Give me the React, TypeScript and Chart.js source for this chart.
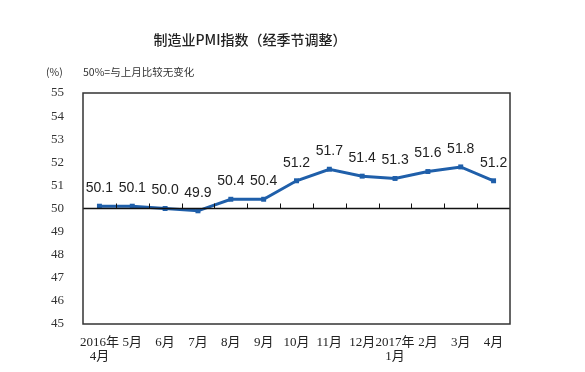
import React, { useEffect, useRef } from "react";
import { Chart, registerables } from "chart.js";

Chart.register(...registerables);

const categories: (string | string[])[] = [
  ["2016年", "4月"], "5月", "6月", "7月", "8月", "9月", "10月", "11月", "12月",
  ["2017年", "1月"], "2月", "3月", "4月",
];
const pmiValues = [50.1, 50.1, 50.0, 49.9, 50.4, 50.4, 51.2, 51.7, 51.4, 51.3, 51.6, 51.8, 51.2];
const yMin = 45;
const yMax = 55;
const baseline = 50;
const titleText = "制造业PMI指数（经季节调整）";
const unitText = "(%)";
const noteText = "50%=与上月比较无变化";

const LINE_COLOR = "#1f5faa";
const SERIF = "'Liberation Serif', 'DejaVu Serif', 'Noto Sans CJK SC', serif";

const decorPlugin = {
  id: "decor",
  afterDatasetsDraw(chart: any) {
    const { ctx, chartArea, scales } = chart;
    const x = scales.x;
    const y = scales.y;
    ctx.save();
    // 50 baseline
    const yb = y.getPixelForValue(baseline);
    ctx.strokeStyle = "#111";
    ctx.lineWidth = 1.5;
    ctx.beginPath();
    ctx.moveTo(chartArea.left, yb);
    ctx.lineTo(chartArea.right, yb);
    ctx.stroke();
    // tick marks between categories on baseline
    ctx.lineWidth = 1;
    const n = categories.length;
    for (let i = 1; i < n; i++) {
      const px = (x.getPixelForValue(i - 1) + x.getPixelForValue(i)) / 2;
      ctx.beginPath();
      ctx.moveTo(Math.round(px) + 0.5, yb);
      ctx.lineTo(Math.round(px) + 0.5, yb - 5);
      ctx.stroke();
    }
    // box border
    ctx.strokeStyle = "#333";
    ctx.lineWidth = 1.5;
    ctx.strokeRect(chartArea.left, chartArea.top, chartArea.right - chartArea.left, chartArea.bottom - chartArea.top);
    // data labels
    ctx.fillStyle = "#222";
    ctx.font = "14px 'Liberation Sans', Arial, sans-serif";
    ctx.textAlign = "center";
    ctx.textBaseline = "middle";
    pmiValues.forEach((v, i) => {
      const px = x.getPixelForValue(i);
      const py = y.getPixelForValue(v);
      ctx.fillText(v.toFixed(1), px, py - 18);
    });
    // title and notes
    ctx.font = "500 14px 'Noto Sans CJK SC', sans-serif";
    ctx.fillStyle = "#222";
    ctx.textAlign = "center";
    ctx.fillText(titleText, 250, 40);
    ctx.font = "10.5px 'Noto Sans CJK SC', sans-serif";
    ctx.textAlign = "left";
    ctx.fillStyle = "#333";
    ctx.fillText(unitText, 46, 72);
    ctx.fillText(noteText, 83, 72);
    ctx.restore();
  },
};

export default function App() {
  const canvasRef = useRef<HTMLCanvasElement | null>(null);
  useEffect(() => {
    document.body.style.margin = "0";
    const canvas = canvasRef.current;
    if (!canvas) return;
    const chart = new Chart(canvas, {
      type: "line",
      data: {
        labels: categories,
        datasets: [
          {
            data: pmiValues,
            borderColor: LINE_COLOR,
            backgroundColor: LINE_COLOR,
            borderWidth: 3,
            pointStyle: "rect",
            pointRadius: 3.5,
            pointBorderWidth: 0,
            tension: 0,
          },
        ],
      },
      options: {
        animation: false,
        responsive: false,
        maintainAspectRatio: false,
        layout: { padding: { top: 93, right: 75, left: 0, bottom: 0 } },
        plugins: {
          legend: { display: false },
          title: { display: false },
          tooltip: { enabled: false },
        },
        scales: {
          x: {
            type: "category",
            offset: true,
            grid: { display: false, drawTicks: false },
            border: { display: false },
            ticks: {
              autoSkip: false,
              maxRotation: 0,
              minRotation: 0,
              padding: 12,
              color: "#222",
              font: { family: SERIF, size: 13, lineHeight: 1.05 },
            },
            afterFit: (s: any) => {
              s.height = 48;
            },
          },
          y: {
            min: yMin,
            max: yMax,
            grid: { display: false, drawTicks: false },
            border: { display: false },
            ticks: {
              stepSize: 1,
              padding: 19,
              color: "#333",
              font: { family: SERIF, size: 13 },
            },
            afterFit: (s: any) => {
              s.width = 83;
            },
          },
        },
      },
      plugins: [decorPlugin],
    });
    return () => chart.destroy();
  }, []);
  return (
    <div style={{ width: 585, height: 372, background: "#fff" }}>
      <canvas ref={canvasRef} width={585} height={372} style={{ width: 585, height: 372 }} />
    </div>
  );
}
